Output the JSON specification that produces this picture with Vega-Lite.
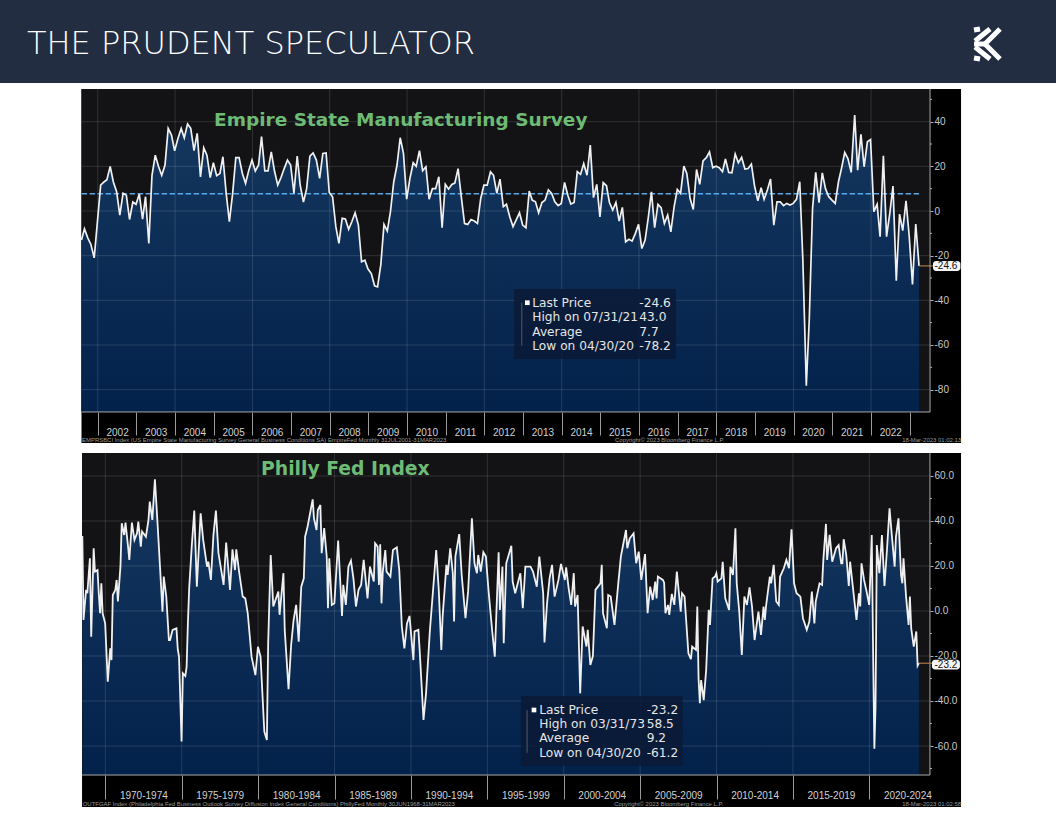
{
  "$schema": "https://vega.github.io/schema/vega-lite/v6.json",
  "padding": 0,
  "spacing": 0,
  "bounds": "flush",
  "background": "white",
  "config": {"view": {"stroke": null}},
  "datasets": {
    "empire": [
      {"date":"2001-07-31","v":-13},{"date":"2001-08-28","v":-8},{"date":"2001-09-28","v":-12},{"date":"2001-10-28","v":-15},{"date":"2001-11-28","v":-21},{"date":"2001-12-28","v":-5},
      {"date":"2002-01-28","v":11.6},{"date":"2002-02-28","v":13},{"date":"2002-03-28","v":14},{"date":"2002-04-28","v":20},{"date":"2002-05-28","v":13},{"date":"2002-06-28","v":8.6},{"date":"2002-07-28","v":-1.8},{"date":"2002-08-28","v":8},{"date":"2002-09-28","v":7},{"date":"2002-10-28","v":-3.8},{"date":"2002-11-28","v":4},{"date":"2002-12-28","v":3},
      {"date":"2003-01-28","v":7.6},{"date":"2003-02-28","v":-3.6},{"date":"2003-03-28","v":6.4},{"date":"2003-04-28","v":-14.5},{"date":"2003-05-28","v":16},{"date":"2003-06-28","v":25},{"date":"2003-07-28","v":20},{"date":"2003-08-28","v":16},{"date":"2003-09-28","v":20.6},{"date":"2003-10-28","v":37},{"date":"2003-11-28","v":34},{"date":"2003-12-28","v":27},
      {"date":"2004-01-28","v":32.5},{"date":"2004-02-28","v":37},{"date":"2004-03-28","v":32.8},{"date":"2004-04-28","v":39},{"date":"2004-05-28","v":37},{"date":"2004-06-28","v":27},{"date":"2004-07-28","v":34.8},{"date":"2004-08-28","v":15.3},{"date":"2004-09-28","v":28.3},{"date":"2004-10-28","v":25},{"date":"2004-11-28","v":15},{"date":"2004-12-28","v":21.6},
      {"date":"2005-01-28","v":15.8},{"date":"2005-02-28","v":16.8},{"date":"2005-03-28","v":24.3},{"date":"2005-04-28","v":7.9},{"date":"2005-05-28","v":-4.8},{"date":"2005-06-28","v":7.9},{"date":"2005-07-28","v":23.9},{"date":"2005-08-28","v":23.9},{"date":"2005-09-28","v":16.8},{"date":"2005-10-28","v":12.4},{"date":"2005-11-28","v":18.3},{"date":"2005-12-28","v":22.8},
      {"date":"2006-01-28","v":17.9},{"date":"2006-02-28","v":20.6},{"date":"2006-03-28","v":33.3},{"date":"2006-04-28","v":18},{"date":"2006-05-28","v":18},{"date":"2006-06-28","v":26.5},{"date":"2006-07-28","v":18},{"date":"2006-08-28","v":11.6},{"date":"2006-09-28","v":15},{"date":"2006-10-28","v":19},{"date":"2006-11-28","v":22.8},{"date":"2006-12-28","v":20.6},
      {"date":"2007-01-28","v":8},{"date":"2007-02-28","v":24.6},{"date":"2007-03-28","v":11.6},{"date":"2007-04-28","v":4},{"date":"2007-05-28","v":10},{"date":"2007-06-28","v":24.6},{"date":"2007-07-28","v":26},{"date":"2007-08-28","v":22.8},{"date":"2007-09-28","v":14.6},{"date":"2007-10-28","v":25.8},{"date":"2007-11-28","v":26},{"date":"2007-12-28","v":8.3},
      {"date":"2008-01-28","v":6.4},{"date":"2008-02-28","v":-7},{"date":"2008-03-28","v":-14.5},{"date":"2008-04-28","v":-3.3},{"date":"2008-05-28","v":-3.6},{"date":"2008-06-28","v":-8.2},{"date":"2008-07-28","v":-4.8},{"date":"2008-08-28","v":-0.8},{"date":"2008-09-28","v":-6.3},{"date":"2008-10-28","v":-22.7},{"date":"2008-11-28","v":-22},{"date":"2008-12-28","v":-26},
      {"date":"2009-01-28","v":-28},{"date":"2009-02-28","v":-33.5},{"date":"2009-03-28","v":-34},{"date":"2009-04-28","v":-24},{"date":"2009-05-28","v":-6},{"date":"2009-06-28","v":-9},{"date":"2009-07-28","v":-0.3},{"date":"2009-08-28","v":13},{"date":"2009-09-28","v":20.6},{"date":"2009-10-28","v":32.8},{"date":"2009-11-28","v":25.8},{"date":"2009-12-28","v":5.3},
      {"date":"2010-01-28","v":14.6},{"date":"2010-02-28","v":21.6},{"date":"2010-03-28","v":20},{"date":"2010-04-28","v":27},{"date":"2010-05-28","v":18},{"date":"2010-06-28","v":19.8},{"date":"2010-07-28","v":5.3},{"date":"2010-08-28","v":10},{"date":"2010-09-28","v":10},{"date":"2010-10-28","v":15.3},{"date":"2010-11-28","v":-7.5},{"date":"2010-12-28","v":12},
      {"date":"2011-01-28","v":9.8},{"date":"2011-02-28","v":11.9},{"date":"2011-03-28","v":12.5},{"date":"2011-04-28","v":19},{"date":"2011-05-28","v":6.4},{"date":"2011-06-28","v":-5.6},{"date":"2011-07-28","v":-6},{"date":"2011-08-28","v":-3.8},{"date":"2011-09-28","v":-4.5},{"date":"2011-10-28","v":-5.6},{"date":"2011-11-28","v":5.6},{"date":"2011-12-28","v":11.6},
      {"date":"2012-01-28","v":11.6},{"date":"2012-02-28","v":17.6},{"date":"2012-03-28","v":16},{"date":"2012-04-28","v":7.9},{"date":"2012-05-28","v":14.3},{"date":"2012-06-28","v":1.9},{"date":"2012-07-28","v":3},{"date":"2012-08-28","v":-2.6},{"date":"2012-09-28","v":-7},{"date":"2012-10-28","v":-4},{"date":"2012-11-28","v":-0.8},{"date":"2012-12-28","v":-6.3},
      {"date":"2013-01-28","v":-7.5},{"date":"2013-02-28","v":8.9},{"date":"2013-03-28","v":4.9},{"date":"2013-04-28","v":4.1},{"date":"2013-05-28","v":-0.8},{"date":"2013-06-28","v":3.8},{"date":"2013-07-28","v":4.9},{"date":"2013-08-28","v":9.5},{"date":"2013-09-28","v":7.9},{"date":"2013-10-28","v":4.1},{"date":"2013-11-28","v":2.4},{"date":"2013-12-28","v":3.4},
      {"date":"2014-01-28","v":12.8},{"date":"2014-02-28","v":7.1},{"date":"2014-03-28","v":3.1},{"date":"2014-04-28","v":3.8},{"date":"2014-05-28","v":17.6},{"date":"2014-06-28","v":16.4},{"date":"2014-07-28","v":21.2},{"date":"2014-08-28","v":16},{"date":"2014-09-28","v":29.5},{"date":"2014-10-28","v":6},{"date":"2014-11-28","v":11.9},{"date":"2014-12-28","v":-2.6},
      {"date":"2015-01-28","v":12.7},{"date":"2015-02-28","v":11.3},{"date":"2015-03-28","v":3.8},{"date":"2015-04-28","v":0.4},{"date":"2015-05-28","v":3.8},{"date":"2015-06-28","v":-4.5},{"date":"2015-07-28","v":1.6},{"date":"2015-08-28","v":-13.8},{"date":"2015-09-28","v":-12.7},{"date":"2015-10-28","v":-13.5},{"date":"2015-11-28","v":-10},{"date":"2015-12-28","v":-6},
      {"date":"2016-01-28","v":-16.8},{"date":"2016-02-28","v":-13},{"date":"2016-03-28","v":-3.3},{"date":"2016-04-28","v":8.6},{"date":"2016-05-28","v":-7.5},{"date":"2016-06-28","v":3},{"date":"2016-07-28","v":1.5},{"date":"2016-08-28","v":-5.6},{"date":"2016-09-28","v":-1.8},{"date":"2016-10-28","v":-9.3},{"date":"2016-11-28","v":1.9},{"date":"2016-12-28","v":9.7},
      {"date":"2017-01-28","v":7.9},{"date":"2017-02-28","v":20.1},{"date":"2017-03-28","v":16.8},{"date":"2017-04-28","v":5.6},{"date":"2017-05-28","v":0.7},{"date":"2017-06-28","v":18.6},{"date":"2017-07-28","v":11.9},{"date":"2017-08-28","v":22.4},{"date":"2017-09-28","v":23.9},{"date":"2017-10-28","v":26.5},{"date":"2017-11-28","v":19.4},{"date":"2017-12-28","v":20.1},
      {"date":"2018-01-28","v":19.4},{"date":"2018-02-28","v":17.6},{"date":"2018-03-28","v":23.3},{"date":"2018-04-28","v":17.3},{"date":"2018-05-28","v":17.1},{"date":"2018-06-28","v":25.5},{"date":"2018-07-28","v":21.6},{"date":"2018-08-28","v":24},{"date":"2018-09-28","v":18.8},{"date":"2018-10-28","v":19},{"date":"2018-11-28","v":21},{"date":"2018-12-28","v":11.2},
      {"date":"2019-01-28","v":4.6},{"date":"2019-02-28","v":10.4},{"date":"2019-03-28","v":5.2},{"date":"2019-04-28","v":9.4},{"date":"2019-05-28","v":14.3},{"date":"2019-06-28","v":-6.3},{"date":"2019-07-28","v":4.1},{"date":"2019-08-28","v":4.1},{"date":"2019-09-28","v":2.4},{"date":"2019-10-28","v":3.4},{"date":"2019-11-28","v":2.7},{"date":"2019-12-28","v":3.4},
      {"date":"2020-01-28","v":5.2},{"date":"2020-02-28","v":13.1},{"date":"2020-03-28","v":-21.5},{"date":"2020-04-30","v":-78.2},{"date":"2020-05-28","v":-48.5},{"date":"2020-06-28","v":1.2},{"date":"2020-07-28","v":17.3},{"date":"2020-08-28","v":3.7},{"date":"2020-09-28","v":17.1},{"date":"2020-10-28","v":10},{"date":"2020-11-28","v":6.4},{"date":"2020-12-28","v":4.9},
      {"date":"2021-01-28","v":3.4},{"date":"2021-02-28","v":13.1},{"date":"2021-03-28","v":19},{"date":"2021-04-28","v":26.2},{"date":"2021-05-28","v":23.5},{"date":"2021-06-28","v":17.3},{"date":"2021-07-31","v":43},{"date":"2021-08-28","v":18.3},{"date":"2021-09-28","v":34.3},{"date":"2021-10-28","v":19.8},{"date":"2021-11-28","v":31},{"date":"2021-12-28","v":32},
      {"date":"2022-01-28","v":-0.3},{"date":"2022-02-28","v":3},{"date":"2022-03-28","v":-11.5},{"date":"2022-04-28","v":24.7},{"date":"2022-05-28","v":-11.5},{"date":"2022-06-28","v":-1},{"date":"2022-07-28","v":11.2},{"date":"2022-08-28","v":-31.2},{"date":"2022-09-28","v":-1.4},{"date":"2022-10-28","v":-8.8},{"date":"2022-11-28","v":4.6},{"date":"2022-12-28","v":-11.2},
      {"date":"2023-01-28","v":-32.9},{"date":"2023-02-28","v":-5.8},{"date":"2023-03-31","v":-24.6}
    ],
    "philly": [
      {"date":"1968-06-30","v":33.3},{"date":"1968-07-28","v":-4},{"date":"1968-09-28","v":9.4},{"date":"1968-10-28","v":7.9},{"date":"1968-12-28","v":23.4},
      {"date":"1969-01-28","v":-11.4},{"date":"1969-03-28","v":27.9},{"date":"1969-04-28","v":17.5},{"date":"1969-06-28","v":18.2},{"date":"1969-07-28","v":7.9},{"date":"1969-08-28","v":-1},{"date":"1969-09-28","v":12.3},{"date":"1969-10-28","v":-1},{"date":"1969-12-28","v":-5.5},
      {"date":"1970-02-28","v":-31.4},{"date":"1970-04-28","v":-16.6},{"date":"1970-05-28","v":-21.8},{"date":"1970-06-28","v":7.1},{"date":"1970-08-28","v":9.4},{"date":"1970-09-28","v":13.8},{"date":"1970-10-28","v":4.2},{"date":"1970-12-28","v":19.7},
      {"date":"1971-01-28","v":39},{"date":"1971-03-28","v":33.8},{"date":"1971-04-28","v":39.3},{"date":"1971-06-28","v":28.6},{"date":"1971-07-28","v":22.7},{"date":"1971-09-28","v":39.3},{"date":"1971-11-28","v":31.6},
      {"date":"1972-01-28","v":34.5},{"date":"1972-02-28","v":39.7},{"date":"1972-04-28","v":28.6},{"date":"1972-05-28","v":35.3},{"date":"1972-08-28","v":33},{"date":"1972-10-28","v":40.5},{"date":"1972-11-28","v":48.6},
      {"date":"1973-01-28","v":40.5},{"date":"1973-03-31","v":58.5},{"date":"1973-05-28","v":40.5},{"date":"1973-07-28","v":20.5},{"date":"1973-09-28","v":-0.3},{"date":"1973-10-28","v":15.3},{"date":"1973-12-28","v":6.4},
      {"date":"1974-02-28","v":-12.9},{"date":"1974-03-28","v":-12.9},{"date":"1974-05-28","v":-8.4},{"date":"1974-08-28","v":-7.7},{"date":"1974-09-28","v":-17},{"date":"1974-10-28","v":-20.3},{"date":"1974-12-28","v":-58},
      {"date":"1975-01-28","v":-27.7},{"date":"1975-03-28","v":-28.9},{"date":"1975-04-28","v":-24.7},{"date":"1975-05-28","v":-5.5},{"date":"1975-06-28","v":10},{"date":"1975-08-28","v":28.6},{"date":"1975-10-28","v":44.6},{"date":"1975-12-28","v":10.8},
      {"date":"1976-03-28","v":43.4},{"date":"1976-05-28","v":31.6},{"date":"1976-08-28","v":19.7},{"date":"1976-09-28","v":21.9},{"date":"1976-11-28","v":13.8},
      {"date":"1977-01-28","v":33.8},{"date":"1977-03-28","v":44.6},{"date":"1977-05-28","v":25.7},{"date":"1977-09-28","v":11.6},{"date":"1977-11-28","v":30.4},
      {"date":"1978-02-28","v":9.4},{"date":"1978-04-28","v":27.4},{"date":"1978-06-28","v":18.2},{"date":"1978-07-28","v":27.4},{"date":"1978-09-28","v":18.2},{"date":"1978-12-28","v":6.4},
      {"date":"1979-02-28","v":5.6},{"date":"1979-04-28","v":-1},{"date":"1979-07-28","v":-20.3},{"date":"1979-10-28","v":-28.5},{"date":"1979-12-28","v":-15.9},
      {"date":"1980-02-28","v":-20.3},{"date":"1980-05-28","v":-53.6},{"date":"1980-07-28","v":-57.3},{"date":"1980-08-28","v":-14.4},{"date":"1980-10-28","v":24.9},{"date":"1980-12-28","v":2},
      {"date":"1981-04-28","v":8.6},{"date":"1981-05-28","v":-1.7},{"date":"1981-08-28","v":16.8},{"date":"1981-09-28","v":-8.4},{"date":"1981-12-28","v":-34.8},
      {"date":"1982-02-28","v":-15.1},{"date":"1982-04-28","v":-4},{"date":"1982-06-28","v":2.7},{"date":"1982-08-28","v":-13.6},{"date":"1982-10-28","v":10.8},{"date":"1982-12-28","v":14.5},
      {"date":"1983-01-28","v":33},{"date":"1983-03-28","v":37.5},{"date":"1983-07-28","v":49.6},{"date":"1983-08-28","v":41.2},{"date":"1983-10-28","v":36},{"date":"1983-11-28","v":44.9},
      {"date":"1984-01-28","v":47.1},{"date":"1984-02-28","v":25.7},{"date":"1984-04-28","v":36.8},{"date":"1984-06-28","v":24.2},{"date":"1984-07-28","v":1.2},{"date":"1984-08-28","v":23.4},{"date":"1984-10-28","v":2.7},{"date":"1984-12-28","v":3.4},
      {"date":"1985-03-28","v":31.3},{"date":"1985-06-28","v":-2.2},{"date":"1985-07-28","v":11.6},{"date":"1985-09-28","v":2.7},{"date":"1985-11-28","v":19.7},
      {"date":"1986-01-28","v":22.4},{"date":"1986-03-28","v":14.5},{"date":"1986-05-28","v":2},{"date":"1986-07-28","v":9.4},{"date":"1986-09-28","v":11.6},{"date":"1986-11-28","v":22.7},
      {"date":"1987-02-28","v":5.6},{"date":"1987-04-28","v":19.7},{"date":"1987-07-28","v":13.1},{"date":"1987-08-28","v":30.1},{"date":"1987-10-28","v":28.6},{"date":"1987-11-28","v":11.6},{"date":"1987-12-28","v":29.6},
      {"date":"1988-01-28","v":3.4},{"date":"1988-02-28","v":17.5},{"date":"1988-04-28","v":27.1},{"date":"1988-05-28","v":17.5},{"date":"1988-08-28","v":15.3},{"date":"1988-10-28","v":27.1},
      {"date":"1989-01-28","v":28.3},{"date":"1989-03-28","v":18.2},{"date":"1989-05-28","v":-6.9},{"date":"1989-07-28","v":-16.6},{"date":"1989-09-28","v":-5.5},{"date":"1989-11-28","v":-2.2},
      {"date":"1990-02-28","v":-21.8},{"date":"1990-03-28","v":-9.1},{"date":"1990-06-28","v":-8.4},{"date":"1990-07-28","v":-17.3},{"date":"1990-10-28","v":-48.4},{"date":"1990-12-28","v":-36.6},
      {"date":"1991-03-28","v":-9.1},{"date":"1991-08-28","v":27.1},{"date":"1991-10-28","v":9.4},{"date":"1991-12-28","v":-17.3},
      {"date":"1992-01-28","v":-2.5},{"date":"1992-04-28","v":20.5},{"date":"1992-05-28","v":16},{"date":"1992-07-28","v":27.9},{"date":"1992-09-28","v":16.8},{"date":"1992-10-28","v":-4.7},{"date":"1992-11-28","v":24.2},
      {"date":"1993-02-28","v":34.2},{"date":"1993-04-28","v":16},{"date":"1993-07-28","v":-3.2},{"date":"1993-09-28","v":8.6},{"date":"1993-12-28","v":41.2},
      {"date":"1994-02-28","v":21.2},{"date":"1994-04-28","v":16.8},{"date":"1994-05-28","v":24.9},{"date":"1994-07-28","v":17.5},{"date":"1994-09-28","v":26.1},{"date":"1994-11-28","v":24.2},
      {"date":"1995-01-28","v":9.4},{"date":"1995-04-28","v":-9.1},{"date":"1995-06-28","v":-20.3},{"date":"1995-09-28","v":26.1},{"date":"1995-10-28","v":0.5},{"date":"1995-12-28","v":19.7},
      {"date":"1996-01-28","v":-14.3},{"date":"1996-03-28","v":21.2},{"date":"1996-07-28","v":29},{"date":"1996-08-28","v":13.1},{"date":"1996-10-28","v":7.9},
      {"date":"1997-02-28","v":16.8},{"date":"1997-04-28","v":1.2},{"date":"1997-06-28","v":19.7},{"date":"1997-10-28","v":19.7},{"date":"1997-12-28","v":17.5},
      {"date":"1998-03-28","v":10.8},{"date":"1998-05-28","v":24.2},{"date":"1998-08-28","v":7.9},{"date":"1998-09-28","v":-14},{"date":"1998-11-28","v":3.4},
      {"date":"1999-01-28","v":14.5},{"date":"1999-03-28","v":20.5},{"date":"1999-05-28","v":6.4},{"date":"1999-08-28","v":13.8},{"date":"1999-10-28","v":20.9},
      {"date":"2000-01-28","v":13.8},{"date":"2000-02-28","v":19.4},{"date":"2000-04-28","v":10.1},{"date":"2000-06-28","v":2.7},{"date":"2000-08-28","v":16.8},{"date":"2000-09-28","v":2},{"date":"2000-11-28","v":7.1},
      {"date":"2001-01-28","v":-36.6},{"date":"2001-03-28","v":-6.9},{"date":"2001-06-28","v":-15.8},{"date":"2001-07-28","v":-8.4},{"date":"2001-09-28","v":-24},{"date":"2001-11-28","v":-20},
      {"date":"2002-01-28","v":9.4},{"date":"2002-05-28","v":12.3},{"date":"2002-06-28","v":20.5},{"date":"2002-07-28","v":-1},{"date":"2002-10-28","v":-7.7},{"date":"2002-11-28","v":7.1},
      {"date":"2003-01-28","v":6.4},{"date":"2003-04-28","v":-6.2},{"date":"2003-07-28","v":12.3},{"date":"2003-09-28","v":24.2},
      {"date":"2004-01-28","v":36},{"date":"2004-02-28","v":27.9},{"date":"2004-04-28","v":32.3},{"date":"2004-07-28","v":34.5},{"date":"2004-09-28","v":21.2},{"date":"2004-11-28","v":26.4},
      {"date":"2005-01-28","v":13.8},{"date":"2005-04-28","v":25.3},{"date":"2005-06-28","v":-1},{"date":"2005-08-28","v":10.8},{"date":"2005-10-28","v":4.9},{"date":"2005-12-28","v":13.1},
      {"date":"2006-01-28","v":5.6},{"date":"2006-02-28","v":15.3},{"date":"2006-06-28","v":13.8},{"date":"2006-07-28","v":12.6},{"date":"2006-08-28","v":-1},{"date":"2006-10-28","v":2.7},{"date":"2006-11-28","v":-1.7},
      {"date":"2007-01-28","v":7.6},{"date":"2007-03-28","v":2.7},{"date":"2007-05-28","v":17.5},{"date":"2007-08-28","v":-0.3},{"date":"2007-09-28","v":7.9},{"date":"2007-11-28","v":6.4},
      {"date":"2008-02-28","v":-18.8},{"date":"2008-04-28","v":-21.4},{"date":"2008-05-28","v":-15.8},{"date":"2008-08-28","v":-17.3},{"date":"2008-09-28","v":2},{"date":"2008-10-28","v":-30},{"date":"2008-11-28","v":-41},{"date":"2008-12-28","v":-30.7},
      {"date":"2009-02-28","v":-39.6},{"date":"2009-04-28","v":-26.2},{"date":"2009-06-28","v":0.5},{"date":"2009-07-28","v":-6.2},{"date":"2009-09-28","v":14.5},{"date":"2009-11-28","v":15.3},{"date":"2009-12-28","v":16.8},
      {"date":"2010-01-28","v":13.1},{"date":"2010-04-28","v":14.5},{"date":"2010-05-28","v":21.9},{"date":"2010-07-28","v":5.6},{"date":"2010-10-28","v":0.5},{"date":"2010-11-28","v":19.7},
      {"date":"2011-01-28","v":16},{"date":"2011-03-28","v":36.8},{"date":"2011-04-28","v":12.3},{"date":"2011-06-28","v":-0.3},{"date":"2011-08-28","v":-19.5},{"date":"2011-10-28","v":6.4},{"date":"2011-12-28","v":2.7},
      {"date":"2012-02-28","v":10.5},{"date":"2012-04-28","v":2},{"date":"2012-06-28","v":-12.9},{"date":"2012-09-28","v":-0.3},{"date":"2012-11-28","v":-10.6},
      {"date":"2013-01-28","v":2},{"date":"2013-02-28","v":-4},{"date":"2013-03-28","v":2},{"date":"2013-06-28","v":15.3},{"date":"2013-07-28","v":12.3},{"date":"2013-09-28","v":20.5},{"date":"2013-11-28","v":4.2},
      {"date":"2014-01-28","v":2.7},{"date":"2014-02-28","v":15.3},{"date":"2014-05-28","v":19},{"date":"2014-07-28","v":22.7},{"date":"2014-09-28","v":19},{"date":"2014-11-28","v":36.3},
      {"date":"2015-01-28","v":12.3},{"date":"2015-03-28","v":7.9},{"date":"2015-06-28","v":6.4},{"date":"2015-08-28","v":-3.2},{"date":"2015-11-28","v":-8.4},
      {"date":"2016-01-28","v":-4.7},{"date":"2016-03-28","v":8.6},{"date":"2016-05-28","v":-5.5},{"date":"2016-06-28","v":4.2},{"date":"2016-09-28","v":12.3},{"date":"2016-11-28","v":11.6},{"date":"2016-12-28","v":22.7},
      {"date":"2017-02-28","v":38.7},{"date":"2017-03-28","v":22.7},{"date":"2017-05-28","v":33.8},{"date":"2017-07-28","v":21.9},{"date":"2017-10-28","v":27.9},{"date":"2017-12-28","v":29.3},
      {"date":"2018-02-28","v":21.2},{"date":"2018-03-28","v":21.2},{"date":"2018-04-28","v":31.9},{"date":"2018-06-28","v":24.9},{"date":"2018-08-28","v":11.1},{"date":"2018-09-28","v":21.9},{"date":"2018-11-28","v":11.6},
      {"date":"2019-02-28","v":-4},{"date":"2019-04-28","v":7.9},{"date":"2019-05-28","v":2},{"date":"2019-06-28","v":21.2},{"date":"2019-08-28","v":13.8},{"date":"2019-10-28","v":8.6},{"date":"2019-12-28","v":2.7},
      {"date":"2020-01-28","v":17},{"date":"2020-02-28","v":33.8},{"date":"2020-03-28","v":-13},{"date":"2020-04-30","v":-61.2},{"date":"2020-05-28","v":-43},{"date":"2020-06-28","v":29.3},{"date":"2020-08-28","v":16.8},{"date":"2020-10-28","v":33.8},{"date":"2020-12-28","v":11.1},
      {"date":"2021-02-28","v":27.9},{"date":"2021-04-28","v":45.6},{"date":"2021-06-28","v":32.3},{"date":"2021-08-28","v":19.7},{"date":"2021-09-28","v":33},{"date":"2021-11-28","v":41.2},
      {"date":"2022-01-28","v":16},{"date":"2022-02-28","v":12.3},{"date":"2022-03-28","v":23.4},{"date":"2022-05-28","v":6.4},{"date":"2022-07-28","v":-6.2},{"date":"2022-08-28","v":6.4},{"date":"2022-09-28","v":-7.7},{"date":"2022-11-28","v":-15.8},
      {"date":"2023-01-28","v":-9.1},{"date":"2023-02-28","v":-24.3},{"date":"2023-03-31","v":-23.2}
    ],
    "phillyYearTicks": [
      {"date":"1969-01-01"},{"date":"1971-01-01"},{"date":"1972-01-01"},{"date":"1973-01-01"},{"date":"1974-01-01"},{"date":"1976-01-01"},{"date":"1977-01-01"},{"date":"1978-01-01"},{"date":"1979-01-01"},{"date":"1981-01-01"},{"date":"1982-01-01"},{"date":"1983-01-01"},{"date":"1984-01-01"},{"date":"1986-01-01"},{"date":"1987-01-01"},{"date":"1988-01-01"},{"date":"1989-01-01"},{"date":"1991-01-01"},{"date":"1992-01-01"},{"date":"1993-01-01"},{"date":"1994-01-01"},{"date":"1996-01-01"},{"date":"1997-01-01"},{"date":"1998-01-01"},{"date":"1999-01-01"},{"date":"2001-01-01"},{"date":"2002-01-01"},{"date":"2003-01-01"},{"date":"2004-01-01"},{"date":"2006-01-01"},{"date":"2007-01-01"},{"date":"2008-01-01"},{"date":"2009-01-01"},{"date":"2011-01-01"},{"date":"2012-01-01"},{"date":"2013-01-01"},{"date":"2014-01-01"},{"date":"2016-01-01"},{"date":"2017-01-01"},{"date":"2018-01-01"},{"date":"2019-01-01"},{"date":"2021-01-01"},{"date":"2022-01-01"},{"date":"2023-01-01"}
    ]
  },
  "vconcat": [
    {
      "width": 1056,
      "height": 83,
      "view": {"fill": "#232d42", "stroke": null},
      "encoding": {
        "x": {"field": "x", "type": "quantitative", "scale": {"domain": [0, 1056], "nice": false, "zero": false}, "axis": null},
        "y": {"field": "y", "type": "quantitative", "scale": {"domain": [83, 0], "nice": false, "zero": false}, "axis": null}
      },
      "layer": [
        {
          "data": {"values": [{"x": 27, "y": 44, "label": "THE PRUDENT SPECULATOR"}]},
          "mark": {"type": "text", "align": "left", "baseline": "middle", "font": "DejaVu Sans", "fontSize": 32, "fontWeight": 200, "color": "#ffffff"},
          "encoding": {"text": {"field": "label"}}
        },
        {
          "data": {"values": [
            {"part": "a", "i": 0, "x": 1000, "y": 29}, {"part": "a", "i": 1, "x": 985, "y": 44}, {"part": "a", "i": 2, "x": 1000, "y": 59},
            {"part": "b", "i": 0, "x": 990, "y": 29}, {"part": "b", "i": 1, "x": 975, "y": 41},
            {"part": "c", "i": 0, "x": 990, "y": 59}, {"part": "c", "i": 1, "x": 975, "y": 47},
            {"part": "d", "i": 0, "x": 974, "y": 44}, {"part": "d", "i": 1, "x": 985, "y": 44},
            {"part": "e", "i": 0, "x": 974, "y": 30}, {"part": "e", "i": 1, "x": 980, "y": 29},
            {"part": "f", "i": 0, "x": 974, "y": 58}, {"part": "f", "i": 1, "x": 980, "y": 59}
          ]},
          "mark": {"type": "line", "color": "#ffffff", "strokeWidth": 5},
          "encoding": {"detail": {"field": "part"}, "order": {"field": "i"}}
        }
      ]
    },
    {
      "width": 1056,
      "height": 365,
      "encoding": {
        "x": {
          "field": "date",
          "type": "temporal",
          "scale": {"type": "utc", "domain": ["1999-06-22", "2026-10-15"]},
          "axis": {
            "title": null, "orient": "bottom", "offset": -36, "domain": false, "grid": false, "zindex": 1,
            "values": ["2002-01-01","2003-01-01","2004-01-01","2005-01-01","2006-01-01","2007-01-01","2008-01-01","2009-01-01","2010-01-01","2011-01-01","2012-01-01","2013-01-01","2014-01-01","2015-01-01","2016-01-01","2017-01-01","2018-01-01","2019-01-01","2020-01-01","2021-01-01","2022-01-01","2023-01-01"],
            "labelExpr": "utcyear(datum.value) < 2023 ? utcFormat(datum.value, '%Y') : ''",
            "tickSize": 23, "tickColor": "#9a9a9a", "labelPadding": -8, "labelOffset": 19.3, "labelAlign": "center", "labelBaseline": "top",
            "labelFont": "Liberation Sans", "labelFontSize": 10, "labelColor": "#d0d0d0", "labelOverlap": false, "labelBound": false, "labelFlush": false
          }
        },
        "y": {
          "field": "v",
          "type": "quantitative",
          "scale": {"domain": [-106.13, 57.32], "nice": false, "zero": false},
          "axis": {
            "title": null, "orient": "right", "offset": -126, "domain": false, "grid": false, "zindex": 1,
            "values": [40, 20, 0, -20, -40, -60, -80],
            "labelExpr": "'' + datum.value",
            "tickSize": 3, "tickColor": "#b0b0b0", "labelPadding": 1, "labelFont": "Liberation Sans", "labelFontSize": 10, "labelColor": "#c8c8c8", "labelOverlap": false, "labelBound": false
          }
        }
      },
      "layer": [
        {
          "data": {"values": [{"date": "2001-07-31", "date2": "2024-05-01", "v": 54.63, "v2": -103.9}]},
          "mark": {"type": "rect", "color": "#000000"},
          "encoding": {"x2": {"field": "date2"}, "y2": {"field": "v2"}}
        },
        {
          "data": {"values": [{"date": "2001-07-31", "date2": "2023-07-13", "v": 54.63, "v2": -90}]},
          "mark": {"type": "rect", "color": "#131316"},
          "encoding": {"x2": {"field": "date2"}, "y2": {"field": "v2"}}
        },
        {
          "data": {"name": "empire"},
          "mark": {"type": "area", "color": {"gradient": "linear", "x1": 0, "y1": 0, "x2": 0, "y2": 1, "stops": [{"offset": 0, "color": "#15375e"}, {"offset": 1, "color": "#02214b"}]}},
          "encoding": {"y2": {"datum": -90}}
        },
        {
          "data": {"values": [{"date": "2001-07-31", "date2": "2023-07-13", "v": 40}, {"date": "2001-07-31", "date2": "2023-07-13", "v": 20}, {"date": "2001-07-31", "date2": "2023-07-13", "v": 0}, {"date": "2001-07-31", "date2": "2023-07-13", "v": -20}, {"date": "2001-07-31", "date2": "2023-07-13", "v": -40}, {"date": "2001-07-31", "date2": "2023-07-13", "v": -60}, {"date": "2001-07-31", "date2": "2023-07-13", "v": -80}]},
          "mark": {"type": "rule", "color": "#ffffff", "opacity": 0.13, "strokeWidth": 1},
          "encoding": {"x2": {"field": "date2"}}
        },
        {
          "data": {"values": [{"date": "2002-01-01", "v": 54.63, "v2": -90}, {"date": "2004-01-01", "v": 54.63, "v2": -90}, {"date": "2006-01-01", "v": 54.63, "v2": -90}, {"date": "2008-01-01", "v": 54.63, "v2": -90}, {"date": "2010-01-01", "v": 54.63, "v2": -90}, {"date": "2012-01-01", "v": 54.63, "v2": -90}, {"date": "2014-01-01", "v": 54.63, "v2": -90}, {"date": "2016-01-01", "v": 54.63, "v2": -90}, {"date": "2018-01-01", "v": 54.63, "v2": -90}, {"date": "2020-01-01", "v": 54.63, "v2": -90}, {"date": "2022-01-01", "v": 54.63, "v2": -90}]},
          "mark": {"type": "rule", "color": "#ffffff", "opacity": 0.13, "strokeWidth": 1},
          "encoding": {"y2": {"field": "v2"}}
        },
        {
          "data": {"values": [{"date": "2001-07-31", "date2": "2023-07-13", "v": -90}]},
          "mark": {"type": "rule", "color": "#a8a8a8", "strokeWidth": 1},
          "encoding": {"x2": {"field": "date2"}}
        },
        {
          "data": {"values": [{"date": "2023-07-13", "v": 54.63, "v2": -90}]},
          "mark": {"type": "rule", "color": "#a8a8a8", "strokeWidth": 1},
          "encoding": {"y2": {"field": "v2"}}
        },
        {
          "data": {"values": [{"date": "2023-07-13", "date2": "2023-08-01", "v": 50}, {"date": "2023-07-13", "date2": "2023-08-01", "v": 30}, {"date": "2023-07-13", "date2": "2023-08-01", "v": 10}, {"date": "2023-07-13", "date2": "2023-08-01", "v": -10}, {"date": "2023-07-13", "date2": "2023-08-01", "v": -30}, {"date": "2023-07-13", "date2": "2023-08-01", "v": -50}, {"date": "2023-07-13", "date2": "2023-08-01", "v": -70}]},
          "mark": {"type": "rule", "color": "#b0b0b0", "strokeWidth": 1},
          "encoding": {"x2": {"field": "date2"}}
        },
        {
          "data": {"values": [{"date": "2001-08-01", "v": 7.7}, {"date": "2023-03-31", "v": 7.7}]},
          "mark": {"type": "line", "color": "#5aa9ea", "strokeWidth": 1.6, "strokeDash": [5.5, 2.5]}
        },
        {
          "data": {"name": "empire"},
          "mark": {"type": "line", "color": "#f0f0f0", "strokeWidth": 1.7}
        },
        {
          "data": {"values": [{"date": "2005-01-03", "v": 40.75, "label": "Empire State Manufacturing Survey"}]},
          "mark": {"type": "text", "align": "left", "baseline": "middle", "font": "DejaVu Sans", "fontSize": 18.5, "fontWeight": "bold", "color": "#6dbb75"},
          "encoding": {"text": {"field": "label"}}
        },
        {
          "data": {"values": [{"date": "2012-10-08", "date2": "2016-12-15", "v": -34.93, "v2": -66.28}]},
          "mark": {"type": "rect", "color": "#0a1a35", "opacity": 0.88},
          "encoding": {"x2": {"field": "date2"}, "y2": {"field": "v2"}}
        },
        {
          "data": {"values": [{"date": "2012-12-20", "v": -41.07, "v2": -60.3}]},
          "mark": {"type": "rule", "color": "#5d6b80", "strokeWidth": 0.8},
          "encoding": {"y2": {"field": "v2"}}
        },
        {
          "data": {"values": [{"date": "2013-02-10", "v": -41.07}]},
          "mark": {"type": "square", "color": "#ffffff", "size": 22, "opacity": 1}
        },
        {
          "data": {"values": [
            {"date": "2013-03-29", "v": -41.07, "label": "Last Price"},
            {"date": "2013-03-29", "v": -47.3, "label": "High on 07/31/21"},
            {"date": "2013-03-29", "v": -54.05, "label": "Average"},
            {"date": "2013-03-29", "v": -60.3, "label": "Low on 04/30/20"},
            {"date": "2016-01-04", "v": -41.07, "label": "-24.6"},
            {"date": "2016-01-04", "v": -47.3, "label": "43.0"},
            {"date": "2016-01-04", "v": -54.05, "label": "7.7"},
            {"date": "2016-01-04", "v": -60.3, "label": "-78.2"}
          ]},
          "mark": {"type": "text", "align": "left", "baseline": "middle", "font": "DejaVu Sans", "fontSize": 12.2, "color": "#e6e6e6"},
          "encoding": {"text": {"field": "label"}}
        },
        {
          "data": {"values": [{"date": "2023-03-31", "date2": "2023-08-10", "v": -24.6}]},
          "mark": {"type": "rule", "color": "#c98a4a", "strokeWidth": 1},
          "encoding": {"x2": {"field": "date2"}}
        },
        {
          "data": {"values": [{"date": "2023-08-10", "date2": "2024-04-25", "v": -22.4, "v2": -26.9}]},
          "mark": {"type": "rect", "color": "#f4f4f4", "cornerRadius": 3},
          "encoding": {"x2": {"field": "date2"}, "y2": {"field": "v2"}}
        },
        {
          "data": {"values": [{"date": "2023-12-10", "v": -24.7, "label": "-24.6"}]},
          "mark": {"type": "text", "align": "center", "baseline": "middle", "font": "Liberation Sans", "fontSize": 10, "color": "#111111"},
          "encoding": {"text": {"field": "label"}}
        },
        {
          "data": {"values": [
            {"date": "2001-08-05", "v": -102.4, "label": "EMPRSBCI Index (US Empire State Manufacturing Survey General Business Conditions SA) EmpireFed  Monthly 31JUL2001-31MAR2023"}
          ]},
          "mark": {"type": "text", "align": "left", "baseline": "middle", "font": "Liberation Sans", "fontSize": 5.95, "color": "#9a9a9a"},
          "encoding": {"text": {"field": "label"}}
        },
        {
          "data": {"values": [
            {"date": "2015-05-20", "v": -102.4, "label": "Copyright© 2023 Bloomberg Finance L.P."}
          ]},
          "mark": {"type": "text", "align": "left", "baseline": "middle", "font": "Liberation Sans", "fontSize": 5.95, "color": "#9a9a9a"},
          "encoding": {"text": {"field": "label"}}
        },
        {
          "data": {"values": [
            {"date": "2024-05-01", "v": -102.4, "label": "18-Mar-2023 01:02:13"}
          ]},
          "mark": {"type": "text", "align": "right", "baseline": "middle", "font": "Liberation Sans", "fontSize": 5.95, "color": "#9a9a9a"},
          "encoding": {"text": {"field": "label"}}
        }
      ]
    },
    {
      "width": 1056,
      "height": 368,
      "encoding": {
        "x": {
          "field": "date",
          "type": "temporal",
          "scale": {"type": "utc", "domain": ["1963-02-09", "2032-03-20"]},
          "axis": {
            "title": null, "orient": "bottom", "offset": -41, "domain": false, "grid": false, "zindex": 1,
            "values": ["1970-01-01","1975-01-01","1980-01-01","1985-01-01","1990-01-01","1995-01-01","2000-01-01","2005-01-01","2010-01-01","2015-01-01","2020-01-01"],
            "labelExpr": "utcyear(datum.value) + '-' + (utcyear(datum.value) + 4)",
            "tickSize": 24, "tickColor": "#9a9a9a", "labelPadding": -8.5, "labelOffset": 38, "labelAlign": "center", "labelBaseline": "top",
            "labelFont": "Liberation Sans", "labelFontSize": 10, "labelColor": "#d0d0d0", "labelOverlap": false, "labelBound": false, "labelFlush": false
          }
        },
        "y": {
          "field": "v",
          "type": "quantitative",
          "scale": {"domain": [-91.11, 72.44], "nice": false, "zero": false},
          "axis": {
            "title": null, "orient": "right", "offset": -126, "domain": false, "grid": false, "zindex": 1,
            "values": [60, 40, 20, 0, -20, -40, -60],
            "labelExpr": "(datum.value < 0 ? '-' : '') + format(abs(datum.value), '.1f')",
            "tickSize": 3, "tickColor": "#b0b0b0", "labelPadding": 1, "labelFont": "Liberation Sans", "labelFontSize": 10, "labelColor": "#c8c8c8", "labelOverlap": false, "labelBound": false
          }
        }
      },
      "layer": [
        {
          "data": {"values": [{"date": "1968-06-23", "date2": "2026-01-01", "v": 70.2, "v2": -87.1}]},
          "mark": {"type": "rect", "color": "#000000"},
          "encoding": {"x2": {"field": "date2"}, "y2": {"field": "v2"}}
        },
        {
          "data": {"values": [{"date": "1968-06-23", "date2": "2023-12-20", "v": 70.2, "v2": -72.9}]},
          "mark": {"type": "rect", "color": "#131316"},
          "encoding": {"x2": {"field": "date2"}, "y2": {"field": "v2"}}
        },
        {
          "data": {"name": "philly"},
          "mark": {"type": "area", "color": {"gradient": "linear", "x1": 0, "y1": 0, "x2": 0, "y2": 1, "stops": [{"offset": 0, "color": "#15375e"}, {"offset": 1, "color": "#02214b"}]}},
          "encoding": {"y2": {"datum": -72.9}}
        },
        {
          "data": {"values": [{"date": "1968-06-23", "date2": "2023-12-20", "v": 60}, {"date": "1968-06-23", "date2": "2023-12-20", "v": 40}, {"date": "1968-06-23", "date2": "2023-12-20", "v": 20}, {"date": "1968-06-23", "date2": "2023-12-20", "v": 0}, {"date": "1968-06-23", "date2": "2023-12-20", "v": -20}, {"date": "1968-06-23", "date2": "2023-12-20", "v": -40}, {"date": "1968-06-23", "date2": "2023-12-20", "v": -60}]},
          "mark": {"type": "rule", "color": "#ffffff", "opacity": 0.13, "strokeWidth": 1},
          "encoding": {"x2": {"field": "date2"}}
        },
        {
          "data": {"values": [{"date": "1970-01-01", "v": 70.2, "v2": -72.9}, {"date": "1975-01-01", "v": 70.2, "v2": -72.9}, {"date": "1980-01-01", "v": 70.2, "v2": -72.9}, {"date": "1985-01-01", "v": 70.2, "v2": -72.9}, {"date": "1990-01-01", "v": 70.2, "v2": -72.9}, {"date": "1995-01-01", "v": 70.2, "v2": -72.9}, {"date": "2000-01-01", "v": 70.2, "v2": -72.9}, {"date": "2005-01-01", "v": 70.2, "v2": -72.9}, {"date": "2010-01-01", "v": 70.2, "v2": -72.9}, {"date": "2015-01-01", "v": 70.2, "v2": -72.9}, {"date": "2020-01-01", "v": 70.2, "v2": -72.9}]},
          "mark": {"type": "rule", "color": "#ffffff", "opacity": 0.13, "strokeWidth": 1},
          "encoding": {"y2": {"field": "v2"}}
        },
        {
          "data": {"values": [{"date": "1968-06-23", "date2": "2023-12-20", "v": -72.9}]},
          "mark": {"type": "rule", "color": "#a8a8a8", "strokeWidth": 1},
          "encoding": {"x2": {"field": "date2"}}
        },
        {
          "data": {"name": "phillyYearTicks"},
          "mark": {"type": "tick", "orient": "vertical", "color": "#b8b8b8", "size": 2, "thickness": 1},
          "encoding": {"y": {"datum": -72.9}}
        },
        {
          "data": {"values": [{"date": "2023-12-20", "v": 70.2, "v2": -72.9}]},
          "mark": {"type": "rule", "color": "#a8a8a8", "strokeWidth": 1},
          "encoding": {"y2": {"field": "v2"}}
        },
        {
          "data": {"values": [{"date": "2023-12-20", "date2": "2024-02-05", "v": 50}, {"date": "2023-12-20", "date2": "2024-02-05", "v": 30}, {"date": "2023-12-20", "date2": "2024-02-05", "v": 10}, {"date": "2023-12-20", "date2": "2024-02-05", "v": -10}, {"date": "2023-12-20", "date2": "2024-02-05", "v": -30}, {"date": "2023-12-20", "date2": "2024-02-05", "v": -50}, {"date": "2023-12-20", "date2": "2024-02-05", "v": -70}]},
          "mark": {"type": "rule", "color": "#b0b0b0", "strokeWidth": 1},
          "encoding": {"x2": {"field": "date2"}}
        },
        {
          "data": {"name": "philly"},
          "mark": {"type": "line", "color": "#f0f0f0", "strokeWidth": 1.8}
        },
        {
          "data": {"values": [{"date": "1980-03-10", "v": 63.1, "label": "Philly Fed Index"}]},
          "mark": {"type": "text", "align": "left", "baseline": "middle", "font": "DejaVu Sans", "fontSize": 18.8, "fontWeight": "bold", "color": "#6dbb75"},
          "encoding": {"text": {"field": "label"}}
        },
        {
          "data": {"values": [{"date": "1997-03-15", "date2": "2007-10-15", "v": -37.8, "v2": -68.9}]},
          "mark": {"type": "rect", "color": "#0a1a35", "opacity": 0.88},
          "encoding": {"x2": {"field": "date2"}, "y2": {"field": "v2"}}
        },
        {
          "data": {"values": [{"date": "1997-08-08", "v": -44, "v2": -63}]},
          "mark": {"type": "rule", "color": "#5d6b80", "strokeWidth": 0.8},
          "encoding": {"y2": {"field": "v2"}}
        },
        {
          "data": {"values": [{"date": "1998-01-20", "v": -44}]},
          "mark": {"type": "square", "color": "#ffffff", "size": 22, "opacity": 1}
        },
        {
          "data": {"values": [
            {"date": "1998-05-25", "v": -44, "label": "Last Price"},
            {"date": "1998-05-25", "v": -50.2, "label": "High on 03/31/73"},
            {"date": "1998-05-25", "v": -56.4, "label": "Average"},
            {"date": "1998-05-25", "v": -63, "label": "Low on 04/30/20"},
            {"date": "2005-06-05", "v": -44, "label": "-23.2"},
            {"date": "2005-06-05", "v": -50.2, "label": "58.5"},
            {"date": "2005-06-05", "v": -56.4, "label": "9.2"},
            {"date": "2005-06-05", "v": -63, "label": "-61.2"}
          ]},
          "mark": {"type": "text", "align": "left", "baseline": "middle", "font": "DejaVu Sans", "fontSize": 12.2, "color": "#e6e6e6"},
          "encoding": {"text": {"field": "label"}}
        },
        {
          "data": {"values": [{"date": "2023-03-31", "date2": "2024-02-05", "v": -23.2}]},
          "mark": {"type": "rule", "color": "#c98a4a", "strokeWidth": 1},
          "encoding": {"x2": {"field": "date2"}}
        },
        {
          "data": {"values": [{"date": "2024-02-05", "date2": "2025-12-05", "v": -21.7, "v2": -26}]},
          "mark": {"type": "rect", "color": "#f4f4f4", "cornerRadius": 3},
          "encoding": {"x2": {"field": "date2"}, "y2": {"field": "v2"}}
        },
        {
          "data": {"values": [{"date": "2025-01-05", "v": -24.2, "label": "-23.2"}]},
          "mark": {"type": "text", "align": "center", "baseline": "middle", "font": "Liberation Sans", "fontSize": 10, "color": "#111111"},
          "encoding": {"text": {"field": "label"}}
        },
        {
          "data": {"values": [{"date": "1968-07-10", "v": -85.8, "label": "OUTFGAF Index (Philadelphia Fed Business Outlook Survey Diffusion Index General Conditions) PhillyFed  Monthly 30JUN1968-31MAR2023"}]},
          "mark": {"type": "text", "align": "left", "baseline": "middle", "font": "Liberation Sans", "fontSize": 5.95, "color": "#9a9a9a"},
          "encoding": {"text": {"field": "label"}}
        },
        {
          "data": {"values": [{"date": "2003-04-20", "v": -85.8, "label": "Copyright© 2023 Bloomberg Finance L.P."}]},
          "mark": {"type": "text", "align": "left", "baseline": "middle", "font": "Liberation Sans", "fontSize": 5.95, "color": "#9a9a9a"},
          "encoding": {"text": {"field": "label"}}
        },
        {
          "data": {"values": [{"date": "2026-01-01", "v": -85.8, "label": "18-Mar-2023 01:02:58"}]},
          "mark": {"type": "text", "align": "right", "baseline": "middle", "font": "Liberation Sans", "fontSize": 5.95, "color": "#9a9a9a"},
          "encoding": {"text": {"field": "label"}}
        }
      ]
    }
  ]
}
